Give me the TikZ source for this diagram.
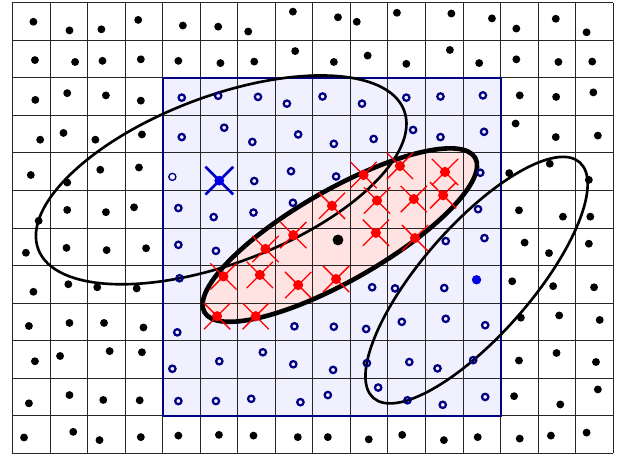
\documentclass[tikz,border=0pt]{standalone}
\usepackage{xcolor}
\usepackage{tikz}

\definecolor{navyline}{RGB}{0,0,128}
\definecolor{regionbg}{RGB}{240,240,255}
\definecolor{hitbg}{RGB}{255,226,226}

\begin{document}
\begin{tikzpicture}[x=1cm, y=1cm,
    gridline/.style={line width=0.65pt, color=black!85},
    region/.style={draw=navyline, line width=1.6pt},
    nbhd/.style={draw=black, line width=2pt},
    active/.style={draw=black, line width=3.5pt},
    sample/.style={fill=black},
    cand/.style={draw=navyline, line width=1.7pt},
    hit/.style={fill=red},
    hitx/.style={draw=red, line width=1pt},
    qx/.style={draw=blue!75!black, line width=2pt},
    qdot/.style={fill=blue!90!black},
]
\useasboundingbox (-0.33,-0.13) rectangle (16.26,12.07);
\coordinate (q1) at (5.56,7.28);
\coordinate (q2) at (8.72,5.81);
\coordinate (q3) at (12.36,4.61);
% fills first, grid on top
\fill[regionbg] (4,1) rectangle (13,10);
\fill[hitbg] (q2) ellipse [x radius=4.15, y radius=1.21, rotate=29.7];
\draw[gridline] (0,0) grid (16,12);
\draw[region] (4,1) rectangle (13,10);
\draw[nbhd] (q1) ellipse [x radius=5.21, y radius=2.22, rotate=20.8];
\draw[nbhd] (q3) ellipse [x radius=4.17, y radius=1.46, rotate=48.8];
\draw[active] (q2) ellipse [x radius=4.15, y radius=1.21, rotate=29.7];
% points outside the box
\foreach \x/\y in {0.56/11.49,1.52/11.26,2.37/11.29,3.35/11.54,4.54/11.39,5.48/11.36,6.28/11.23,7.47/11.76,
    8.67/11.61,9.17/11.49,10.24/11.73,11.69/11.71,12.77/11.58,13.42/11.31,14.47/11.57,15.29/11.21,
    0.60/10.47,1.67/10.42,2.40/10.45,3.42/10.49,4.42/10.45,5.54/10.39,6.44/10.43,7.53/10.71,
    8.56/10.42,9.46/10.59,10.49/10.37,11.65/10.74,12.43/10.39,13.42/10.49,14.54/10.42,15.44/10.43,
    0.61/9.41,1.46/9.59,2.49/9.53,3.42/9.39,13.51/9.53,14.48/9.49,15.47/9.61,
    0.74/8.35,1.36/8.53,2.21/8.35,3.45/8.49,13.40/8.78,14.47/8.42,15.59/8.46,
    0.49/7.41,1.46/7.21,2.34/7.55,3.37/7.61,13.23/7.46,14.31/7.71,15.35/7.28,
    0.70/6.19,1.46/6.48,2.49/6.42,3.24/6.55,13.49/6.47,14.66/6.30,15.39/6.30,
    0.36/5.34,1.44/5.47,2.51/5.41,3.56/5.46,13.64/5.61,14.29/5.33,15.35/5.58,
    0.56/4.30,1.49/4.50,2.26/4.42,3.31/4.39,13.31/4.58,14.40/4.45,15.49/4.42,
    0.44/3.39,1.52/3.47,2.44/3.47,3.49/3.35,13.54/3.61,14.56/3.67,15.64/3.55,
    0.60/2.45,1.27/2.59,2.59/2.72,3.45/2.69,13.49/2.47,14.49/2.67,15.54/2.43,
    0.44/1.33,1.52/1.55,2.42/1.42,3.39/1.41,13.36/1.52,14.59/1.30,15.59/1.70,
    0.31/0.42,1.62/0.57,2.32/0.35,3.42/0.43,4.42/0.47,5.50/0.49,6.42/0.47,7.60/0.43,
    8.40/0.43,9.49/0.37,10.38/0.49,11.49/0.35,12.39/0.43,13.51/0.39,14.34/0.47,15.29/0.55}
    \fill[sample] (\x,\y) circle (0.105);
% candidates inside the box
\foreach \x/\y in {4.51/9.47,5.48/9.52,6.54/9.49,7.31/9.31,8.26/9.50,9.31/9.31,10.49/9.47,11.40/9.50,12.53/9.53,
    4.51/8.42,5.64/8.67,6.39/8.29,7.61/8.49,8.56/8.24,9.62/8.37,10.67/8.61,11.40/8.42,12.56/8.56,
    6.44/7.25,7.42/7.51,8.62/7.37,12.46/7.47,
    4.42/6.53,5.36/6.29,6.42/6.41,7.47/6.67,12.40/6.50,
    4.42/5.55,5.42/5.39,11.54/5.65,12.57/5.73,
    4.45/4.66,9.58/4.42,10.19/4.39,11.50/4.40,
    4.39/3.22,7.51/3.38,8.56/3.37,9.42/3.31,10.37/3.50,11.54/3.58,12.59/3.41,
    4.26/2.25,5.51/2.45,6.67/2.69,7.48/2.37,8.54/2.22,9.44/2.40,10.57/2.43,11.32/2.26,12.27/2.48,
    4.42/1.39,5.42/1.39,6.36/1.45,7.67/1.36,8.40/1.55,9.74/1.75,10.52/1.41,11.46/1.29,12.59/1.50}
    \draw[cand] (\x,\y) circle (0.085);
\draw[cand, line width=1pt] (4.26,7.36) circle (0.095);
% hits
\foreach \x/\y in {9.35/7.41,10.32/7.65,11.52/7.49,
    8.51/6.59,9.71/6.73,10.69/6.77,11.47/6.87,
    6.74/5.44,7.48/5.81,9.68/5.87,10.72/5.73,
    5.62/4.71,6.59/4.75,7.61/4.48,8.62/4.64,
    5.45/3.65,6.48/3.65}
{
    \fill[hit] (\x,\y) circle (0.135);
    \draw[hitx] (\x,\y) ++(-0.35,-0.35) -- ++(0.7,0.7) ++(-0.7,0) -- ++(0.7,-0.7);
}
% query points
\draw[qx] (5.51,7.26) ++(-0.37,-0.37) -- ++(0.74,0.74) ++(-0.74,0) -- ++(0.74,-0.74);
\fill[qdot] (5.51,7.26) circle (0.13);
\fill[sample] (8.67,5.68) circle (0.145);
\fill[qdot] (12.36,4.62) circle (0.125);
\end{tikzpicture}
\end{document}
